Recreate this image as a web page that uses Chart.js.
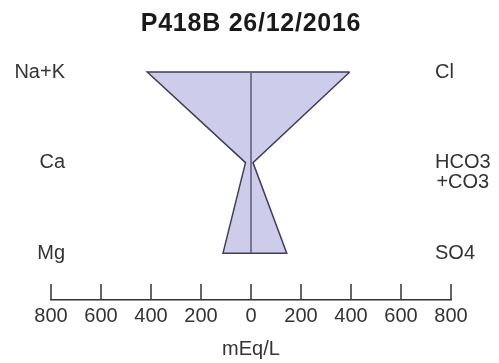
<!DOCTYPE html>
<html>
<head>
<meta charset="utf-8">
<script src="https://cdn.jsdelivr.net/npm/chart.js@4/dist/chart.umd.min.js"></script>
<style>
html,body{margin:0;padding:0;background:#fff;}
#wrap{width:499px;height:363px;position:relative;}
</style>
</head>
<body>
<div id="wrap"><canvas id="c" width="499" height="363"></canvas></div>
<script>
const titleText = 'P418B 26/12/2016';
const cations = ['Na+K', 'Ca', 'Mg'];
const cationValues = [415, 22, 112];
const anions = ['Cl', ['HCO3', '+CO3'], 'SO4'];
const anionValues = [395, 8, 143];
const xTickValues = [-800, -600, -400, -200, 0, 200, 400, 600, 800];
const unitLabel = 'mEq/L';

const rows = cations.map((_, i) => i);
const polygon = [];
rows.forEach(i => polygon.push({x: anionValues[i], y: i}));
rows.slice().reverse().forEach(i => polygon.push({x: -cationValues[i], y: i}));
polygon.push({x: anionValues[0], y: 0});
const centerLine = [{x: 0, y: 0}, {x: 0, y: rows.length - 1}];

const txt = '#333333';
const fontFam = '"Liberation Sans", Arial, sans-serif';

const sidePlugin = {
  id: 'side',
  afterDatasetsDraw(chart) {
    const ctx = chart.ctx, xs = chart.scales.x, ys = chart.scales.y;
    ctx.save();
    // title
    ctx.fillStyle = '#1a1a1a';
    ctx.font = 'bold 25px ' + fontFam;
    ctx.textAlign = 'center';
    ctx.textBaseline = 'middle';
    if ('letterSpacing' in ctx) ctx.letterSpacing = '0.75px';
    ctx.fillText(titleText, (xs.left + xs.right) / 2, 24);
    if ('letterSpacing' in ctx) ctx.letterSpacing = '0px';
    // upward tick marks
    ctx.strokeStyle = '#333';
    ctx.lineWidth = 1.5;
    const yb = chart.chartArea.bottom;
    xs.ticks.forEach((t, i) => {
      const px = xs.getPixelForTick(i);
      ctx.beginPath();
      ctx.moveTo(px, yb);
      ctx.lineTo(px, yb - 16);
      ctx.stroke();
    });
    // side labels
    ctx.fillStyle = txt;
    ctx.font = '20px ' + fontFam;
    ctx.textBaseline = 'middle';
    cations.forEach((lab, i) => {
      ctx.textAlign = 'right';
      ctx.fillText(lab, 65, ys.getPixelForValue(i));
    });
    anions.forEach((lab, i) => {
      ctx.textAlign = 'left';
      const lines = Array.isArray(lab) ? lab : [lab];
      const w0 = ctx.measureText(lines[0]).width;
      lines.forEach((l, k) => {
        const lw = ctx.measureText(l).width;
        const x0 = k === 0 ? 435 : 435 + (w0 - lw) / 2;
        ctx.fillText(l, x0, ys.getPixelForValue(i) + k * 20);
      });
    });
    ctx.restore();
  }
};

new Chart(document.getElementById('c'), {
  type: 'scatter',
  data: {
    datasets: [
      {
        data: polygon,
        showLine: true,
        fill: 'shape',
        backgroundColor: '#cdcdeb',
        borderColor: '#3e3e58',
        borderWidth: 1.5,
        pointRadius: 0,
        tension: 0,
        clip: false,
        order: 2
      },
      {
        data: centerLine,
        showLine: true,
        fill: false,
        borderColor: '#6a6a80',
        borderWidth: 1,
        pointRadius: 0,
        clip: false,
        order: 1
      }
    ]
  },
  options: {
    responsive: false,
    animation: false,
    layout: {padding: {left: 51, right: 48, top: 63, bottom: 2}},
    plugins: {
      legend: {display: false},
      tooltip: {enabled: false},
      title: {display: false}
    },
    scales: {
      x: {
        type: 'linear',
        min: -800,
        max: 800,
        afterBuildTicks: (s) => { s.ticks = xTickValues.map(v => ({value: v})); },
        grid: {display: false, drawTicks: false, tickLength: 0},
        border: {display: true, color: '#333', width: 1.5},
        ticks: {
          color: txt,
          font: {family: fontFam, size: 20},
          padding: 4,
          maxRotation: 0,
          autoSkip: false,
          callback: (v) => String(Math.abs(v))
        },
        title: {
          display: true,
          text: unitLabel,
          color: txt,
          font: {family: fontFam, size: 20},
          padding: {top: 5, bottom: 0}
        }
      },
      y: {
        type: 'linear',
        display: false,
        reverse: true,
        min: -0.1,
        max: 2.517
      }
    }
  },
  plugins: [sidePlugin]
});
</script>
</body>
</html>
